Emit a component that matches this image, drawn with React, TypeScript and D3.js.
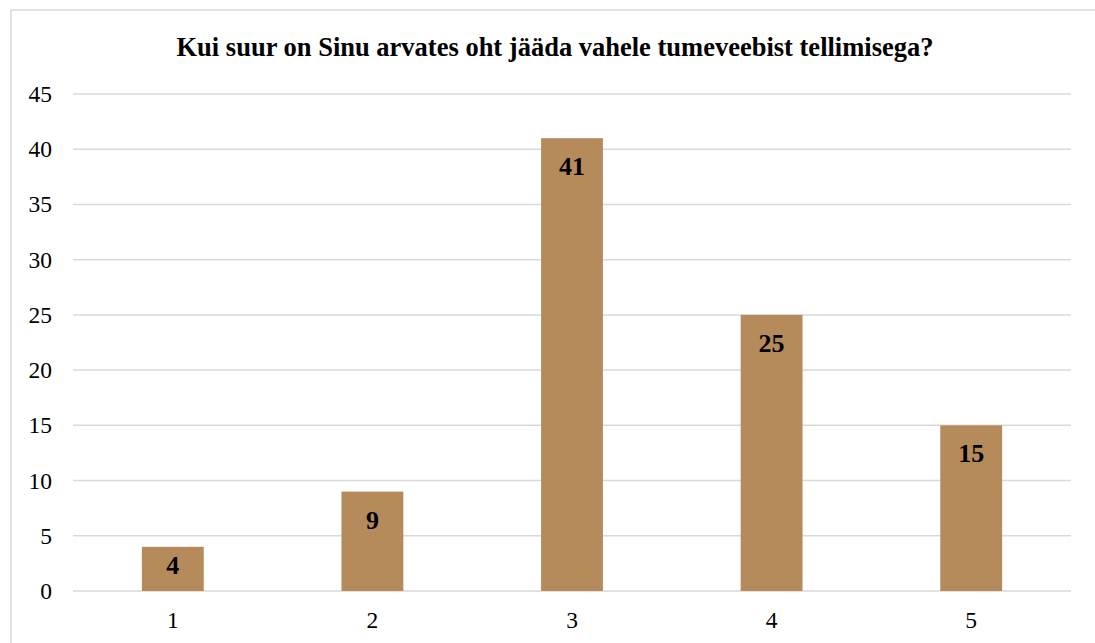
import React from "react";
import * as d3 from "d3";

const categories = ["1", "2", "3", "4", "5"];
const values = [4, 9, 41, 25, 15];
const yTicks = [0, 5, 10, 15, 20, 25, 30, 35, 40, 45];
const title = "Kui suur on Sinu arvates oht jääda vahele tumeveebist tellimisega?";

export default function App() {
  const W = 1095, H = 643;
  const left = 73, right = 1071, top = 94, bottom = 591;
  const x = d3.scaleBand<string>().domain(categories).range([left, right]).paddingInner(0.69).paddingOuter(0.345);
  const y = d3.scaleLinear().domain([0, 45]).range([bottom, top]);
  const font = "'Liberation Serif', 'Times New Roman', serif";
  return (
    <svg width={W} height={H} style={{ position: "absolute", left: 0, top: 0, background: "#fff" }}>
      <rect x={11} y={10} width={1088} height={637} fill="#fff" stroke="#d9d9d9" strokeWidth={1.5} />
      <text x={555} y={56} textAnchor="middle" fontFamily={font} fontWeight="bold" fontSize={26.5} fill="#000">{title}</text>
      {yTicks.map(t => (
        <g key={t}>
          <line x1={left} x2={right} y1={y(t)} y2={y(t)} stroke="#d9d9d9" strokeWidth={1.5} />
          <text x={52} y={y(t) + 8} textAnchor="end" fontFamily={font} fontSize={23.5} fill="#000">{t}</text>
        </g>
      ))}
      {values.map((v, i) => {
        const c = categories[i];
        const bx = x(c)!;
        return (
          <g key={c}>
            <rect x={bx} y={y(v)} width={x.bandwidth()} height={y(0) - y(v)} fill="#b58b5c" />
            <text x={bx + x.bandwidth() / 2} y={Math.min(y(v) + 37, y(0) - 17)} textAnchor="middle" fontFamily={font} fontWeight="bold" fontSize={26} fill="#000">{v}</text>
          </g>
        );
      })}
      {categories.map(c => (
        <text key={c} x={x(c)! + x.bandwidth() / 2} y={628} textAnchor="middle" fontFamily={font} fontSize={23.5} fill="#000">{c}</text>
      ))}
    </svg>
  );
}
